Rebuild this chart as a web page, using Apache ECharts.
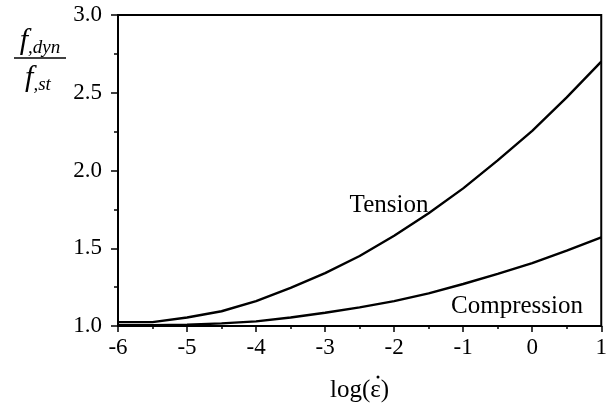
<!DOCTYPE html>
<html>
<head>
<meta charset="utf-8">
<script src="https://cdn.jsdelivr.net/npm/echarts@6/dist/echarts.min.js"></script>
<style>
    html, body {margin: 0; padding: 0; background: #fff;}
    #echartdiv {width: 610px; height: 408px;}
</style>
</head>
<body>
<div id="echartdiv"></div>
<script>
// log(strain rate)
var pRate = [-6, -5.5, -5, -4.5, -4, -3.5, -3, -2.5, -2, -1.5, -1, -0.5, 0, 0.5, 1];
// f,dyn / f,st
var pTension = [1.025, 1.025, 1.055, 1.095, 1.16, 1.245, 1.34, 1.45, 1.58, 1.725, 1.885, 2.065, 2.255, 2.47, 2.70];
var pCompression = [1.005, 1.005, 1.008, 1.017, 1.03, 1.055, 1.085, 1.12, 1.16, 1.21, 1.27, 1.335, 1.405, 1.485, 1.57];

var FONT = '"Liberation Serif", "Times New Roman", serif';

function toPairs(xs, ys) {
    var out = [];
    for (var i = 0; i < xs.length; i++) {
        out.push([xs[i], ys[i]]);
    }
    return out;
}

var dom = document.getElementById("echartdiv");
var myChart = echarts.init(dom);

var fracRich = {
    f: {fontFamily: FONT, fontStyle: 'italic', fontSize: 30, fill: '#000'},
    s: {fontFamily: FONT, fontStyle: 'italic', fontSize: 19, fill: '#000', padding: [14, 0, 0, 0]}
};

var option = {
    animation: false,
    grid: {
        left: 118,
        right: 7,
        top: 15,
        bottom: 76,
        show: true,
        borderColor: '#000',
        borderWidth: 2
    },
    xAxis: {
        type: 'value',
        min: -6,
        max: 1,
        interval: 1,
        name: 'log(ε)',
        nameLocation: 'middle',
        nameGap: 52,
        nameTextStyle: {color: '#000', fontFamily: FONT, fontSize: 25},
        axisLine: {onZero: false, lineStyle: {color: '#000', width: 2}},
        axisTick: {length: 6, lineStyle: {color: '#000', width: 1.5}},
        minorTick: {show: true, splitNumber: 2, length: 3, lineStyle: {color: '#000', width: 1.5}},
        axisLabel: {color: '#000', fontFamily: FONT, fontSize: 23, margin: 10},
        splitLine: {show: false}
    },
    yAxis: {
        type: 'value',
        min: 1,
        max: 3,
        interval: 0.5,
        axisLine: {onZero: false, lineStyle: {color: '#000', width: 2}},
        axisTick: {length: 7, lineStyle: {color: '#000', width: 1.5}},
        minorTick: {show: true, splitNumber: 2, length: 4, lineStyle: {color: '#000', width: 1.5}},
        axisLabel: {
            color: '#000', fontFamily: FONT, fontSize: 23, margin: 16,
            formatter: function (v) { return v.toFixed(1); }
        },
        splitLine: {show: false}
    },
    series: [
        {
            name: 'Tension',
            type: 'line',
            data: toPairs(pRate, pTension),
            showSymbol: false,
            lineStyle: {color: '#000', width: 2.4}
        },
        {
            name: 'Compression',
            type: 'line',
            data: toPairs(pRate, pCompression),
            showSymbol: false,
            lineStyle: {color: '#000', width: 2.4}
        }
    ],
    graphic: [
        {
            type: 'text', x: 389, y: 205,
            style: {text: 'Tension', fill: '#000', font: '25px ' + FONT, align: 'center', verticalAlign: 'middle'}
        },
        {
            type: 'text', x: 517, y: 306,
            style: {text: 'Compression', fill: '#000', font: '25px ' + FONT, align: 'center', verticalAlign: 'middle'}
        },
        // dot over epsilon (strain rate)
        {
            type: 'circle', shape: {cx: 378, cy: 377, r: 1.5},
            style: {fill: '#000'}
        },
        // y axis name as a fraction
        {
            type: 'text', x: 40, y: 41,
            style: {text: '{f|f}{s|,dyn}', align: 'center', verticalAlign: 'middle', rich: fracRich}
        },
        {
            type: 'line',
            shape: {x1: 14, y1: 58, x2: 66, y2: 58},
            style: {stroke: '#000', lineWidth: 1.5}
        },
        {
            type: 'text', x: 38, y: 78,
            style: {text: '{f|f}{s|,st}', align: 'center', verticalAlign: 'middle', rich: fracRich}
        }
    ]
};

myChart.setOption(option);
</script>
</body>
</html>
